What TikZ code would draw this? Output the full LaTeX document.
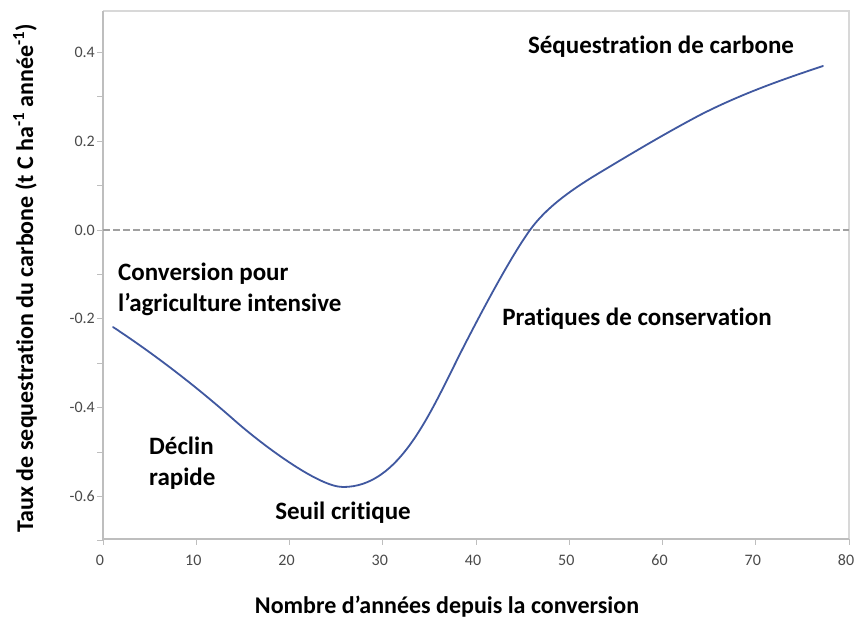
\documentclass[tikz,border=0pt]{standalone}
\usepackage{fontspec}
\setmainfont{Carlito}[Ligatures=NoCommon]
\definecolor{curveblue}{HTML}{4058A0}
\definecolor{axisgray}{HTML}{BEBEBE}
\definecolor{framegray}{HTML}{D8D8D8}
\definecolor{dashgray}{HTML}{A0A0A0}
\definecolor{ticktext}{HTML}{4A4A4A}
\begin{document}
\begin{tikzpicture}[x=1pt,y=-1pt,
  lbl/.style={font=\fontsize{25}{31}\selectfont\bfseries, inner sep=0pt, align=left},
  ticklbl/.style={font=\fontsize{16}{19}\selectfont, text=ticktext, inner sep=0pt},
  axislbl/.style={font=\fontsize{24}{28}\selectfont\bfseries, inner sep=0pt}]
\useasboundingbox (0,0) rectangle (856,619);
\fill[white] (0,0) rectangle (856,619);
% frame
\draw[framegray, line width=1.2pt] (103,11) -- (849,11) -- (849,539);
\draw[axisgray, line width=1.5pt] (103,11) -- (103,539) -- (849,539);
% y ticks
\foreach \v in {-0.7,-0.6,...,0.45} {
  \draw[axisgray, line width=1pt] (97,{230-444*\v}) -- (103,{230-444*\v});
}
\foreach \v/\t in {0.4/0.4,0.2/0.2,0.0/0.0,-0.2/-0.2,-0.4/-0.4,-0.6/-0.6} {
  \node[ticklbl, anchor=east] (yt\t) at (95,{230-444*\v}) {\t};
}
% x ticks
\foreach \t in {0,10,...,80} {
  \draw[axisgray, line width=1pt] ({103+9.325*\t},539) -- ({103+9.325*\t},545);
  \node[ticklbl] (xt\t) at ({100+9.325*\t},560) {\t};
}
% zero line
\draw[dashgray, line width=1.5pt, dash pattern=on 7pt off 3pt] (103,230) -- (849,230);
% curve (pixel coordinates)
\draw[curveblue, line width=1.8pt, line cap=round]
  (113,327) .. controls (153,353.4) and (193,383.8) .. (233,419)
  .. controls (260,443) and (318,487) .. (343,487)
  .. controls (400,487) and (430,413) .. (463,348)
  .. controls (485,305) and (512,255) .. (530,230)
  .. controls (546,207.8) and (570,191) .. (593,176.7)
  .. controls (629,155) and (664,134) .. (700,115)
  .. controls (741,94) and (782,79.6) .. (823,66);
% labels
\node[lbl, anchor=center] (seq) at (661,47) {Séquestration de carbone};
\node[lbl, anchor=west] (conv) at (118,289) {Conversion pour\\l’agriculture intensive};
\node[lbl, anchor=center] (prat) at (637,319) {Pratiques de conservation};
\node[lbl, anchor=west] (decl) at (149,463) {Déclin\\rapide};
\node[lbl, anchor=center] (seuil) at (343,513) {Seuil critique};
\node[axislbl] (xlab) at (447,607) {Nombre d’années depuis la conversion};
\node[axislbl, rotate=90] (ylab) at (25,278) {Taux de sequestration du carbone (t C ha\textsuperscript{-1} année\textsuperscript{-1})};
\end{tikzpicture}
\end{document}
